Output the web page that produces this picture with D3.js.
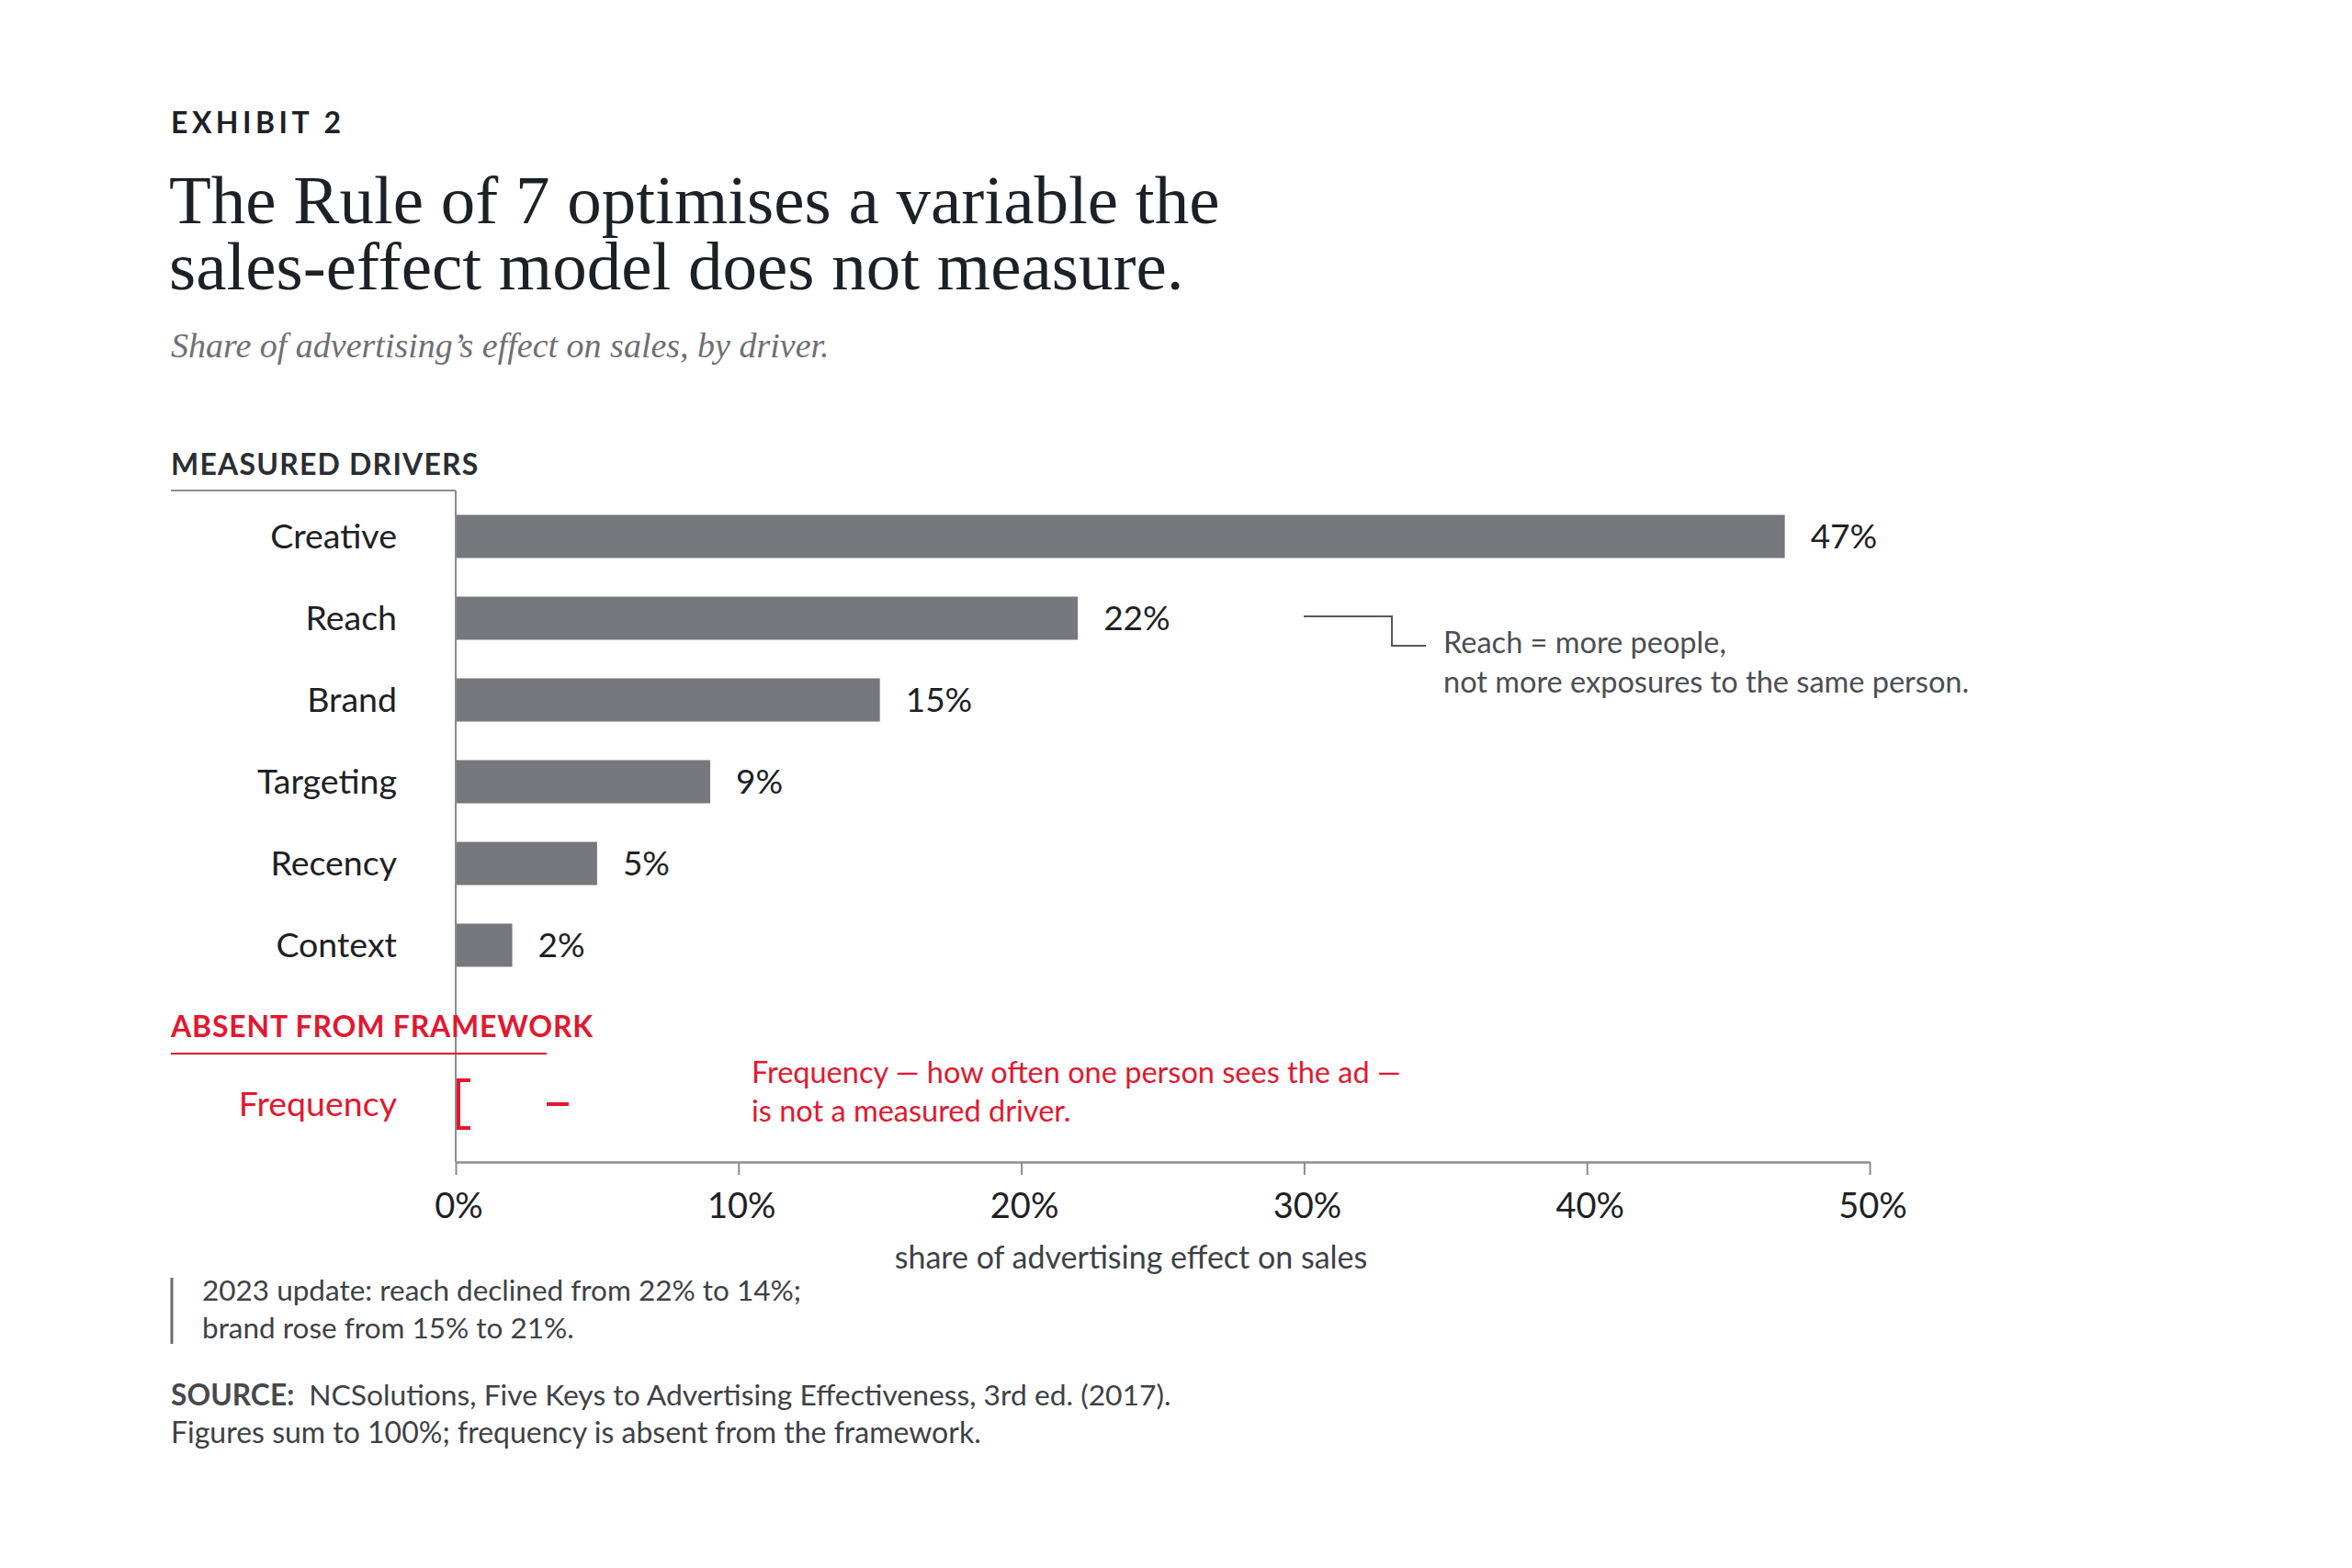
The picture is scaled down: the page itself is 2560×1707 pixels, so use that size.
<!DOCTYPE html>
<html>
<head>
<meta charset="utf-8">
<script src="https://cdn.jsdelivr.net/npm/d3@7"></script>
<style>
  html, body { margin: 0; padding: 0; background: #fff; }
  svg { display: block; }
  text { font-family: Lato, "Noto Sans", sans-serif; }
  .serif { font-family: "Liberation Serif", "DejaVu Serif", serif; }
</style>
</head>
<body>
<svg id="chart" width="2560" height="1707"></svg>
<script>
const drivers = ["Creative", "Reach", "Brand", "Targeting", "Recency", "Context"];
const shares = [47, 22, 15, 9, 5, 2];
const absentDrivers = ["Frequency"];
const tickValues = [0, 10, 20, 30, 40, 50];

const ink = "#1d2125", grey = "#4a4e53", barFill = "#76787d", red = "#e2182f", rule = "#8a8c90";

const svg = d3.select("#chart");

const x = d3.scaleLinear().domain([0, 50]).range([496, 2035]);
const y = d3.scalePoint().domain(drivers).range([584, 1029]);
const yAbsent = d3.scalePoint().domain(absentDrivers).range([1202, 1202]);
const barH = 47;

// header
svg.append("text").attr("x", 186).attr("y", 145)
    .attr("font-size", 32).attr("font-weight", 700).attr("letter-spacing", 4.5)
    .attr("fill", ink).text("EXHIBIT 2");

const title = svg.append("text").attr("class", "serif").attr("font-size", 75).attr("fill", ink);
["The Rule of 7 optimises a variable the", "sales-effect model does not measure."].forEach((t, i) => {
    title.append("tspan").attr("x", 184).attr("y", 243 + i * 72).text(t);
});

svg.append("text").attr("class", "serif").attr("x", 186).attr("y", 389)
    .attr("font-size", 38).attr("font-style", "italic").attr("fill", "#6e6f72")
    .text("Share of advertising\u2019s effect on sales, by driver.");

// section heading: measured
svg.append("text").attr("x", 186).attr("y", 517)
    .attr("font-size", 32).attr("font-weight", 700).attr("letter-spacing", 1.2).attr("fill", "#2a2e33")
    .text("MEASURED DRIVERS");
svg.append("line").attr("x1", 186).attr("x2", x(0)).attr("y1", 534).attr("y2", 534)
    .attr("stroke", rule).attr("stroke-width", 2);

// vertical baseline
svg.append("line").attr("x1", x(0)).attr("x2", x(0)).attr("y1", 534).attr("y2", 1265)
    .attr("stroke", rule).attr("stroke-width", 2);

const rows = drivers.map((d, i) => ({ name: d, value: shares[i] }));

svg.append("g").selectAll("rect").data(rows).join("rect")
    .attr("x", x(0) + 1)
    .attr("y", d => y(d.name) - barH / 2)
    .attr("width", d => x(d.value) - x(0) - 1)
    .attr("height", barH)
    .attr("fill", barFill);

svg.append("g").selectAll("text").data(rows).join("text")
    .attr("x", 432).attr("y", d => y(d.name) + 13)
    .attr("text-anchor", "end").attr("font-size", 37.5).attr("fill", ink)
    .text(d => d.name);

svg.append("g").selectAll("text").data(rows).join("text")
    .attr("x", d => x(d.value) + 28).attr("y", d => y(d.name) + 13)
    .attr("font-size", 37).attr("fill", ink)
    .text(d => d.value + "%");

// reach callout
const reachY = y("Reach");
svg.append("path")
    .attr("d", `M1419,${reachY - 2} H1515 V${reachY + 30} H1552`)
    .attr("fill", "none").attr("stroke", "#55595e").attr("stroke-width", 2);
svg.append("text").attr("x", 1571).attr("y", reachY + 38)
    .attr("font-size", 32.5).attr("fill", grey).text("Reach = more people,");
svg.append("text").attr("x", 1571).attr("y", reachY + 81)
    .attr("font-size", 32.5).attr("fill", grey).text("not more exposures to the same person.");

// section heading: absent
svg.append("text").attr("x", 186).attr("y", 1129)
    .attr("font-size", 32).attr("font-weight", 700).attr("letter-spacing", 0.8).attr("fill", red)
    .text("ABSENT FROM FRAMEWORK");
svg.append("line").attr("x1", 186).attr("x2", 595).attr("y1", 1147).attr("y2", 1147)
    .attr("stroke", red).attr("stroke-width", 2);

absentDrivers.forEach(d => {
    const cy = yAbsent(d);
    svg.append("text").attr("x", 432).attr("y", cy + 13)
        .attr("text-anchor", "end").attr("font-size", 37.5).attr("fill", red).text(d);
    // empty bracket at zero, and a dash for "no value"
    svg.append("path")
        .attr("d", `M${x(0) + 16},${cy - 26} H${x(0) + 3} V${cy + 26} H${x(0) + 16}`)
        .attr("fill", "none").attr("stroke", red).attr("stroke-width", 4);
    svg.append("line").attr("x1", x(0) + 99).attr("x2", x(0) + 123)
        .attr("y1", cy).attr("y2", cy).attr("stroke", red).attr("stroke-width", 4);
});

const freqNote = svg.append("text").attr("font-size", 32.5).attr("fill", red);
["Frequency \u2014 how often one person sees the ad \u2014", "is not a measured driver."].forEach((t, i) => {
    freqNote.append("tspan").attr("x", 818).attr("y", 1179 + i * 42).text(t);
});

// x axis
const axis = svg.append("g").attr("transform", "translate(0,1265)")
    .call(d3.axisBottom(x).tickValues(tickValues).tickFormat(d => d + "%").tickSize(14).tickSizeOuter(0).tickPadding(20));
axis.select(".domain").attr("stroke", rule).attr("stroke-width", 2.5);
axis.selectAll(".tick line").attr("stroke", rule).attr("stroke-width", 2);
axis.selectAll(".tick text").attr("font-size", 38).attr("fill", ink)
    .attr("font-family", "Lato, sans-serif").attr("dx", 3);

svg.append("text").attr("x", 1231).attr("y", 1381)
    .attr("text-anchor", "middle").attr("font-size", 34).attr("fill", "#3d4146")
    .text("share of advertising effect on sales");

// 2023 note
svg.append("line").attr("x1", 187).attr("x2", 187).attr("y1", 1391).attr("y2", 1463)
    .attr("stroke", "#6a6d72").attr("stroke-width", 3);
const upd = svg.append("text").attr("font-size", 31.5).attr("fill", "#3d4146");
["2023 update: reach declined from 22% to 14%;", "brand rose from 15% to 21%."].forEach((t, i) => {
    upd.append("tspan").attr("x", 220).attr("y", 1416 + i * 41).text(t);
});

// source
const src = svg.append("text").attr("x", 186).attr("y", 1530).attr("font-size", 31.8).attr("fill", "#3d4146");
src.append("tspan").attr("font-weight", 700).attr("fill", "#45494e").text("SOURCE:");
src.append("tspan").text("\u2002NCSolutions, Five Keys to Advertising Effectiveness, 3rd ed. (2017).");
svg.append("text").attr("x", 186).attr("y", 1571).attr("font-size", 32).attr("fill", "#3d4146")
    .text("Figures sum to 100%; frequency is absent from the framework.");
</script>
</body>
</html>
